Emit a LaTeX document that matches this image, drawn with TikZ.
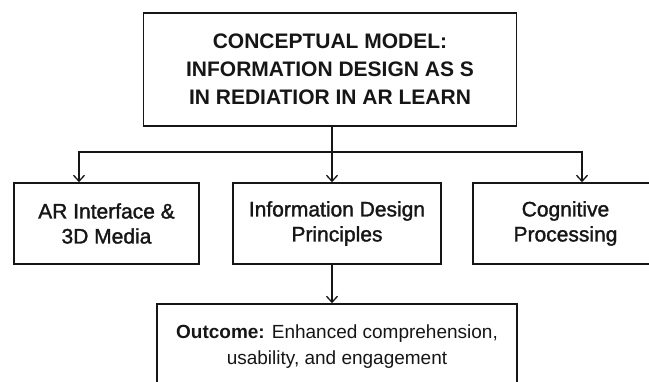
\documentclass[tikz,border=0pt]{standalone}
\usepackage{fontspec}
\setmainfont{Liberation Sans}
\usepackage{xcolor}
\usetikzlibrary{arrows.meta}
\definecolor{inkblack}{RGB}{22, 22, 22}

\begin{document}
\begin{tikzpicture}[x=1pt, y=-1pt,
  box/.style={draw=inkblack, line width=1.6pt, inner sep=0pt, align=center, text=inkblack},
  link/.style={draw=inkblack, line width=1.3pt, -{Straight Barb[length=6pt, width=11pt, line width=1.3pt]}}]
\useasboundingbox[fill=white] (0,0) rectangle (649,381);
% title box
\node[box, minimum width=373pt, minimum height=113pt,
  font=\bfseries\fontsize{21}{28}\selectfont] (model) at (330,69.5)
  {CONCEPTUAL MODEL:\\INFORMATION DESIGN AS S\\ IN REDIATIOR IN AR LEARN};
% three middle boxes
\foreach \name/\x/\w/\txt in {media/106.5/185/{AR Interface \&\\3D Media},
                              design/337/208/{Information Design\\Principles},
                              cognition/565.5/185/{Cognitive\\Processing}} {
    \node[box, minimum width=\w pt, minimum height=81pt,
      font=\fontsize{21}{25}\selectfont\addfontfeature{FakeBold=1.5}] (\name) at (\x,223.5) {\txt};
}
% outcome box
\node[box, minimum width=360pt, minimum height=86pt,
  font=\fontsize{19}{26}\selectfont] (outcome) at (337,347)
  {\textbf{Outcome:} Enhanced comprehension,\\usability, and engagement};
% connectors
\coordinate (trunk) at (332,152);
\coordinate (busL) at (79,152);
\coordinate (busR) at (582,152);
\draw[link] (model.south -| trunk) -- (trunk |- design.north);
\draw[link] (trunk) -| (busL |- media.north);
\draw[link] (trunk) -| (busR |- cognition.north);
\draw[link] (design.south -| trunk) -- (trunk |- outcome.north);
\end{tikzpicture}
\end{document}
